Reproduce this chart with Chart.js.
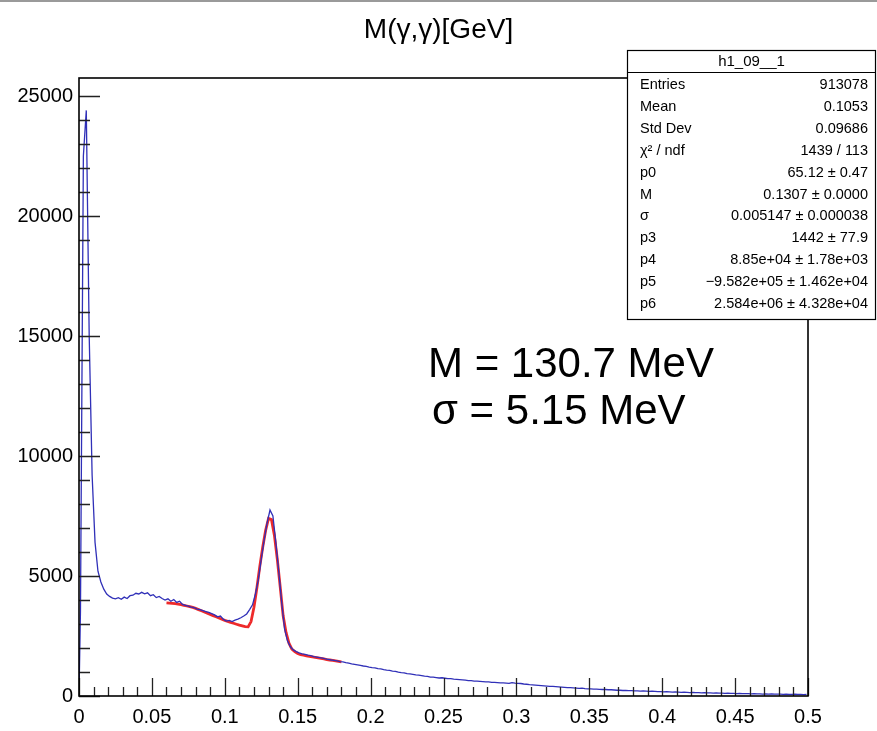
<!DOCTYPE html>
<html>
<head>
<meta charset="utf-8">
<title>M(γ,γ)</title>
<script src="https://cdn.jsdelivr.net/npm/chart.js@4.4.0/dist/chart.umd.min.js"></script>
<style>
    html, body { margin: 0; padding: 0; background: #fff; }
    canvas { display: block; }
</style>
</head>
<body>
<canvas id="massChart" width="877" height="731"></canvas>
<script>
// HISTOGRAM BINNING (GeV)
var binWidth = 0.002;
var massMin = 0;
var massMax = 0.5;

// counts per bin
var counts = [
    3500, 22500, 24400, 15000, 9200, 6400, 5200, 4750, 4450, 4250,
    4150, 4080, 4050, 4100, 4030, 4120, 4060, 4180, 4200, 4280,
    4250, 4320, 4260, 4300, 4180, 4220, 4100, 4150, 4060, 4000,
    4050, 3950, 4020, 3900, 3950, 3820, 3780, 3740, 3700, 3680,
    3620, 3600, 3560, 3520, 3480, 3430, 3380, 3300, 3330, 3200,
    3120, 3150, 3100, 3160, 3200, 3260, 3330, 3420, 3600, 3800,
    4250, 4850, 5700, 6500, 7200, 7750, 7500, 6400, 5200, 3900,
    2800, 2300, 2050, 1920, 1850, 1800, 1760, 1730, 1700, 1680,
    1640, 1620, 1600, 1580, 1550, 1530, 1500, 1480, 1460, 1430,
    1420, 1390, 1370, 1340, 1320, 1300, 1280, 1250, 1230, 1200,
    1180, 1170, 1140, 1130, 1100, 1080, 1070, 1040, 1030, 990,
    970, 960, 930, 920, 900, 880, 870, 850, 830, 820,
    790, 790, 770, 750, 760, 740, 720, 720, 700, 690,
    680, 670, 660, 640, 640, 620, 620, 610, 600, 590,
    590, 570, 570, 560, 550, 550, 540, 530, 560, 540,
    530, 520, 500, 490, 470, 460, 450, 440, 430, 420,
    410, 400, 400, 390, 380, 370, 360, 350, 350, 340,
    330, 320, 330, 310, 300, 300, 290, 290, 280, 270,
    270, 260, 260, 250, 240, 240, 230, 230, 220, 220,
    210, 210, 200, 210, 200, 190, 200, 190, 180, 180,
    170, 180, 170, 160, 170, 160, 150, 160, 150, 140,
    150, 140, 140, 130, 140, 130, 130, 120, 130, 120,
    120, 110, 120, 110, 110, 100, 110, 100, 100, 100,
    90, 100, 90, 90, 80, 90, 80, 90, 80, 80,
    80, 70, 80, 70, 70, 80, 70, 70, 60, 70
];

// fit function (gaus + pol3), sampled from 0.06 to 0.18 GeV
var fitStart = 0.06;
var fitStep = 0.002;
var fitValues = [
    3880, 3870, 3860, 3850, 3830, 3810, 3780, 3750, 3720, 3690,
    3650, 3600, 3550, 3500, 3450, 3400, 3350, 3300, 3250, 3200,
    3150, 3110, 3070, 3030, 2990, 2950, 2920, 2890, 2880, 3100,
    3700, 4500, 5400, 6200, 6900, 7400, 7350, 6700, 5700, 4550,
    3350, 2650, 2200, 1950, 1850, 1770, 1720, 1700, 1670, 1650,
    1630, 1610, 1590, 1570, 1550, 1520, 1500, 1480, 1460, 1440,
    1420
];

var xTicks = [0, 0.05, 0.1, 0.15, 0.2, 0.25, 0.3, 0.35, 0.4, 0.45, 0.5];
var yTicks = [0, 5000, 10000, 15000, 20000, 25000];
var yMax = 25750;

// stats box
var statsTitle = 'h1_09__1';
var statsLabels = ['Entries', 'Mean', 'Std Dev', 'χ² / ndf', 'p0', 'M', 'σ', 'p3', 'p4', 'p5', 'p6'];
var statsValues = ['913078', '0.1053', '0.09686', '1439 / 113', '65.12 ± 0.47', '0.1307 ± 0.0000',
    '0.005147 ± 0.000038', '1442 ± 77.9', '8.85e+04 ± 1.78e+03', '−9.582e+05 ± 1.462e+04',
    '2.584e+06 ± 4.328e+04'];

var noteLines = ['M = 130.7 MeV', 'σ = 5.15 MeV'];

var FONT = '"Liberation Sans", Arial, Helvetica, sans-serif';

// histogram drawn through bin centres, starting from the baseline
var histPoints = [{x: massMin, y: 0}];
for (var i = 0; i < counts.length; i++) {
    histPoints.push({x: massMin + (i + 0.5) * binWidth, y: counts[i]});
}

var fitPoints = fitValues.map(function (v, i) {
    return {x: fitStart + i * fitStep, y: v};
});

// ROOT style frame, inner ticks, stats box and notes
var rootFrame = {
    id: 'rootFrame',
    afterDatasetsDraw: function (chart) {
        var ctx = chart.ctx;
        var a = chart.chartArea;
        var xs = chart.scales.x;
        var ys = chart.scales.y;
        ctx.save();
        ctx.strokeStyle = '#222';
        ctx.lineWidth = 1.3;
        ctx.beginPath();
        for (var k = 0; k <= 50; k++) {
            var px = Math.round(xs.getPixelForValue(k * 0.01)) + 0.5;
            var len = (k % 5 === 0) ? 18 : 9;
            ctx.moveTo(px, a.bottom);
            ctx.lineTo(px, a.bottom - len);
        }
        for (var j = 0; j <= 25; j++) {
            var py = Math.round(ys.getPixelForValue(j * 1000)) + 0.5;
            var ylen = (j % 5 === 0) ? 21 : 11;
            ctx.moveTo(a.left, py);
            ctx.lineTo(a.left + ylen, py);
        }
        ctx.stroke();

        ctx.strokeStyle = '#000';
        ctx.lineWidth = 1.6;
        ctx.strokeRect(a.left, a.top, a.right - a.left, a.bottom - a.top);
        ctx.restore();
    },
    afterDraw: function (chart) {
        var ctx = chart.ctx;
        ctx.save();

        // thin grey border at the very top of the screenshot
        ctx.fillStyle = '#9a9a9a';
        ctx.fillRect(0, 0, 877, 2);

        // stats box
        var bx = 627, by = 50, bw = 249, bh = 270;
        ctx.fillStyle = '#fff';
        ctx.fillRect(bx, by, bw, bh);
        ctx.strokeStyle = '#000';
        ctx.lineWidth = 1.2;
        ctx.strokeRect(bx + 0.5, by + 0.5, bw - 1, bh - 1);
        ctx.beginPath();
        ctx.moveTo(bx, by + 22.5);
        ctx.lineTo(bx + bw, by + 22.5);
        ctx.stroke();

        ctx.fillStyle = '#000';
        ctx.textBaseline = 'middle';
        ctx.font = '15px ' + FONT;
        ctx.textAlign = 'center';
        ctx.fillText(statsTitle, bx + bw / 2, by + 12);

        ctx.font = '14.5px ' + FONT;
        for (var r = 0; r < statsLabels.length; r++) {
            var ry = 85 + r * 21.9;
            ctx.textAlign = 'left';
            ctx.fillText(statsLabels[r], 640, ry);
            ctx.textAlign = 'right';
            ctx.fillText(statsValues[r], 868, ry);
        }

        // mass / width annotation
        ctx.font = '42px ' + FONT;
        ctx.textAlign = 'left';
        ctx.textBaseline = 'alphabetic';
        ctx.fillText(noteLines[0], 428, 377);
        ctx.fillText(noteLines[1], 432, 424);
        ctx.restore();
    }
};

var ctx = document.getElementById('massChart').getContext('2d');
window.massChart = new Chart(ctx, {
    type: 'line',
    data: {
        datasets: [
            {
                label: 'h1_09__1',
                data: histPoints,
                borderColor: '#3030b8',
                borderWidth: 1.3,
                pointRadius: 0,
                tension: 0,
                fill: false
            },
            {
                label: 'fit',
                data: fitPoints,
                borderColor: '#ee2a2a',
                borderWidth: 2.8,
                pointRadius: 0,
                tension: 0,
                fill: false
            }
        ]
    },
    options: {
        responsive: false,
        animation: false,
        events: [],
        layout: { padding: 0 },
        plugins: {
            legend: { display: false },
            tooltip: { enabled: false },
            title: {
                display: true,
                text: 'M(γ,γ)[GeV]',
                color: '#000',
                font: { family: FONT, size: 28, weight: 'normal', lineHeight: 1.2 },
                padding: { top: 13, bottom: 31.4 }
            }
        },
        scales: {
            x: {
                type: 'linear',
                min: massMin,
                max: massMax,
                grid: { display: false, drawTicks: false },
                border: { display: false },
                afterBuildTicks: function (scale) {
                    scale.ticks = xTicks.map(function (v) { return {value: v}; });
                },
                afterFit: function (scale) { scale.height = 35; },
                ticks: {
                    color: '#000',
                    padding: 9,
                    maxRotation: 0,
                    autoSkip: false,
                    font: { family: FONT, size: 20 },
                    callback: function (value) { return String(+value.toFixed(2)); }
                }
            },
            y: {
                min: 0,
                max: yMax,
                grid: { display: false, drawTicks: false },
                border: { display: false },
                afterBuildTicks: function (scale) {
                    scale.ticks = yTicks.map(function (v) { return {value: v}; });
                },
                afterFit: function (scale) { scale.width = 79; },
                ticks: {
                    color: '#000',
                    padding: 6,
                    autoSkip: false,
                    font: { family: FONT, size: 20 },
                    callback: function (value) { return String(value); }
                }
            },
            yRight: {
                position: 'right',
                min: 0,
                max: 1,
                grid: { display: false, drawTicks: false },
                border: { display: false },
                ticks: { display: false },
                afterFit: function (scale) { scale.width = 69; }
            }
        }
    },
    plugins: [rootFrame]
});
</script>
</body>
</html>
